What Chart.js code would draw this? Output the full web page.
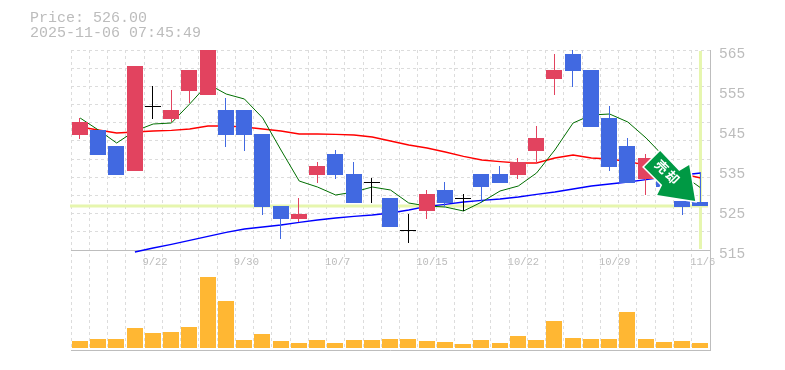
<!DOCTYPE html>
<html>
<head>
<meta charset="utf-8">
<style>html,body{margin:0;padding:0;background:#fff}#wrap{position:relative;width:785px;height:370px}</style>
<script src="https://cdn.jsdelivr.net/npm/chart.js@4"></script>
</head>
<body>
<div id="wrap"><canvas id="c" width="785" height="370"></canvas></div>
<script>
const dates = ['9/16','9/17','9/18','9/19','9/22','9/24','9/25','9/26','9/29','9/30','10/1','10/2','10/3','10/6','10/7','10/8','10/9','10/10','10/14','10/15','10/16','10/17','10/20','10/21','10/22','10/23','10/24','10/27','10/28','10/29','10/30','10/31','11/4','11/5','11/6'];
const shownDates = ['9/22','9/30','10/7','10/15','10/22','10/29','11/6'];
const bodyTop = [547,545,541,561,551.12,550,560,568,550,550,544,526,524,536,539,534,532.12,528,520.12,529,530,528.12,534,534,537,543,560,564,560,548,541,538,533,527.25,527];
const bodyBottom = [543.75,538.75,533.75,534.75,550.88,547.75,554.75,553.75,543.75,543.75,525.75,522.75,522.75,533.75,533.75,526.75,531.88,520.75,519.88,524.75,526.75,527.88,530.75,531.75,533.75,539.75,557.75,559.75,545.75,535.75,531.75,532.75,530.75,525.75,526];
const high = [548,545,541,561,556,555,560,570,553,550,544,526,528,537,540,537,533,528,524,530,532,529,534,536,538,546,564,566,560,551,543,539,533,527.25,534.25];
const low = [542.75,538.75,533.75,534.75,547.8,547,551.75,553.75,540.75,539.75,523.75,517.75,522,531.75,532.75,526.75,526.75,520.75,516.75,522.75,525.75,524.75,526.75,531.75,532.75,536.5,553.75,555.75,545.75,534.75,531.75,528.75,530.75,523.75,526];
const isUp = [1,0,0,1,2,1,1,1,0,0,0,0,1,1,0,0,2,0,2,1,0,2,0,0,1,1,1,0,0,0,0,1,0,0,0];
const maShort = [548,545,541.75,544.75,546.5,546.75,551.5,556.5,554,552.75,548,540,532.25,530.75,528.75,529.5,530.75,530,526.75,526,525.75,524.75,527,529.75,531,534.25,540,546.75,548.75,549,547,543,538.25,533.75,530.5];
const maMid = [545.75,545,544.25,544.5,544.75,544.9,545.25,546,546,545.75,545.25,544.75,544,544,543.9,543.75,543.25,542.25,541.25,540.5,539.5,538.4,537.5,537.1,536.75,536.75,538,538.75,538,537.75,537.1,536.25,535.25,534,533];
const maLong = [null,null,null,514.5,515.5,516.4,517.4,518.4,519.4,520.25,520.75,521.25,521.9,522.5,523,523.4,523.75,524.25,525,525.9,526.4,527,527.4,527.75,528.25,528.9,529.5,530.25,531,531.5,532,532.6,533.25,533.75,534.25];
const volume = [7,9,9,20,15,16,21,71,47,8,14,7,5,8,5,8,8,9,9,7,6,4,8,5,12,8,27,10,9,9,36,9,6,7,5];
const priceLabels = [565,555,545,535,525,515];
const priceGrid = [565,560.45,555.91,551.36,546.82,542.27,537.73,533.18,528.64,524.09,519.55,515];
const currentPrice = 526;
const titleLines = ['Price: 526.00','2025-11-06 07:45:49'];
const signalText = '売却';

const RED = '#E2435F', BLUE = '#4169E1', BLACK = '#000000', ORANGE = '#FFB733';
const GRID = '#dcdcdc', AXIS = '#bdbdbd', TEXT = '#bcbcbc', GUIDE = '#E6F6AE', MONO = '"Liberation Mono", monospace';
const candleColor = ctx => [BLUE, RED, BLACK][isUp[ctx.dataIndex]];
const lastIndex = dates.length - 1;

const decorations = {
  id: 'decorations',
  afterDatasetsUpdate(chart) {
    chart.data.datasets.forEach((ds, i) => {
      if (ds.type !== 'bar') return;
      chart.getDatasetMeta(i).data.forEach(el => {
        el.x = ds.label === 'Wick' ? Math.floor(el.x - 0.4) + 0.5 : Math.round(el.x - 0.4);
        el.y = Math.round(el.y);
        el.base = Math.max(Math.round(el.base), el.y + 1);
        el.height = el.base - el.y;
      });
    });
  },
  beforeDatasetsDraw(chart) {
    const {ctx, chartArea: a, scales: {x, y}} = chart;
    const px = x.getPixelForValue(lastIndex), py = y.getPixelForValue(currentPrice);
    ctx.save();
    ctx.strokeStyle = GUIDE; ctx.lineWidth = 3;
    ctx.beginPath();
    ctx.moveTo(a.left - 1, py); ctx.lineTo(a.right - 2, py);
    ctx.moveTo(px - 0.4, y.top + 1); ctx.lineTo(px - 0.4, y.bottom - 1);
    ctx.stroke();
    ctx.restore();
  },
  afterDraw(chart) {
    const {ctx, scales: {x, y}} = chart;
    const tx = x.getPixelForValue(lastIndex) - 5.7, ty = y.getPixelForValue(currentPrice) - 5;
    const shape = [[0,0],[-38,-6],[-33,-16],[-51,-34],[-35,-50],[-16,-30],[-6,-36]];
    ctx.save();
    ctx.translate(tx, ty);
    ctx.beginPath();
    shape.forEach((p, i) => i ? ctx.lineTo(p[0], p[1]) : ctx.moveTo(p[0], p[1]));
    ctx.closePath();
    ctx.lineJoin = 'miter';
    ctx.strokeStyle = '#ffffff'; ctx.lineWidth = 3; ctx.stroke();
    ctx.fillStyle = '#009944'; ctx.fill();
    ctx.translate(-28, -29);
    ctx.rotate(Math.PI / 4);
    ctx.fillStyle = '#ffffff';
    ctx.font = 'bold 13px "Noto Sans CJK JP"';
    ctx.letterSpacing = '2px';
    ctx.textAlign = 'center'; ctx.textBaseline = 'middle';
    ctx.fillText(signalText, 1, 0);
    ctx.restore();

    ctx.save();
    ctx.fillStyle = TEXT;
    ctx.font = '15px ' + MONO;
    ctx.textAlign = 'left'; ctx.textBaseline = 'middle';
    ctx.fillText(titleLines[0], 30, 18);
    ctx.fillText(titleLines[1], 30, 33);
    ctx.restore();
  }
};

new Chart(document.getElementById('c'), {
  data: {
    labels: dates,
    datasets: [
      {type:'bar', label:'Volume', data: volume, yAxisID:'vol', backgroundColor: ORANGE, barThickness:16, inflateAmount:0, order:6},
      {type:'line', label:'MA long', data: maLong, yAxisID:'y', borderColor:'#0000ff', borderWidth:1.4, pointRadius:0, tension:0, order:5, clip:{left:0,top:0,right:0,bottom:3}},
      {type:'line', label:'MA mid', data: maMid, yAxisID:'y', borderColor:'#ff0000', borderWidth:1.4, pointRadius:0, tension:0, order:4},
      {type:'line', label:'MA short', data: maShort, yAxisID:'y', borderColor:'#006e00', borderWidth:1, pointRadius:0, tension:0, order:3},
      {type:'bar', label:'Wick', data: dates.map((d,i)=>[low[i],high[i]]), yAxisID:'y', backgroundColor: candleColor, barThickness:1, inflateAmount:0, order:2},
      {type:'bar', label:'Body', data: dates.map((d,i)=>[bodyBottom[i],bodyTop[i]]), yAxisID:'y', backgroundColor: candleColor, barThickness:16, inflateAmount:0, order:1}
    ]
  },
  options: {
    responsive:false, animation:false, devicePixelRatio:1,
    layout:{padding:{left:71, top:50, right:0, bottom:20}},
    plugins:{legend:{display:false}, tooltip:{enabled:false}},
    datasets:{bar:{grouped:false}},
    scales:{
      x:{
        type:'category', position:{y:515}, offset:true,
        grid:{offset:true, color:GRID, drawTicks:false},
        border:{color:AXIS, dash:[3,3], width:1},
        ticks:{
          autoSkip:false, maxRotation:0, minRotation:0, align:'start', labelOffset:-10.7, padding:6,
          color:TEXT, font:{family:MONO, size:10.5},
          callback(v){ const l = dates[v]; return shownDates.includes(l) ? l : ''; }
        }
      },
      y:{
        position:'right', stack:'panes', stackWeight:2, min:515, max:565,
        afterBuildTicks(s){ s.ticks = [...new Set([...priceGrid, ...priceLabels])].map(value=>({value})); },
        afterFit(s){ s.width = 75; },
        grid:{color:c=>priceGrid.includes(c.tick.value)?GRID:'rgba(0,0,0,0)', drawTicks:false},
        border:{color:AXIS, dash:[3,3], width:1},
        ticks:{
          padding:9, labelOffset:4, autoSkip:false, color:TEXT, font:{family:MONO, size:14.5},
          callback(v){ return priceLabels.includes(v) ? String(v) : ''; }
        }
      },
      vol:{
        position:'right', stack:'panes', stackWeight:1, min:-2, max:98,
        afterBuildTicks(s){ s.ticks = [{value:-2}]; },
        afterFit(s){ s.width = 75; },
        grid:{color:AXIS, drawTicks:false},
        border:{color:AXIS, width:1},
        ticks:{display:false}
      }
    }
  },
  plugins:[decorations]
});
</script>
</body>
</html>
